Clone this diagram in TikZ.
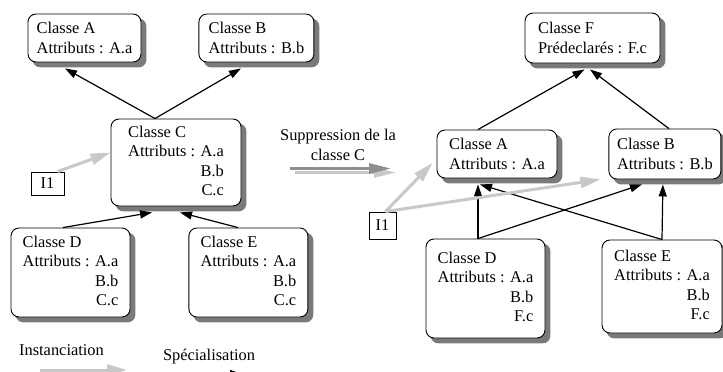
\documentclass[tikz,border=0pt]{standalone}
\usepackage{fontspec}
\setmainfont{Liberation Serif}
\usetikzlibrary{arrows.meta,positioning,backgrounds}
\definecolor{instance-grey}{HTML}{C8C8C8}
\definecolor{suppression-grey}{HTML}{8E8E8E}
\definecolor{shadow-grey}{HTML}{7A7A7A}

\begin{document}
\begin{tikzpicture}[x=1pt,y=-1pt,font=\fontsize{16.4}{19.5}\selectfont]
  \tikzstyle{classe}=[draw, line width=0.9pt, rounded corners=8pt, fill=white, align=left]
  \tikzstyle{objet}=[draw, line width=0.9pt, fill=white, inner sep=0pt]
  \tikzstyle{specialise}=[line width=1.2pt, -{Triangle[length=12pt,width=8pt]}]
  \tikzstyle{instancie}=[line width=3pt, instance-grey, -{Triangle[length=20pt,width=11pt]}]
  \tikzstyle{supprime}=[line width=3pt, -{Triangle[length=22pt,width=10pt]}]

  \useasboundingbox (0,0) rectangle (723,372);

  %% Before: hierarchy with C
  \node[classe, minimum width=113pt, minimum height=48pt] (la) at (84.5,38)
    {Classe A\\Attributs : A.a};
  \node[classe, minimum width=115pt, minimum height=48pt] (lb) [right=57pt of la]
    {Classe B\\Attributs : B.b};
  \node[classe, minimum width=130pt, minimum height=87pt] (lc) at (176,162.5)
    {\begin{tabular}{@{}l@{ }r@{}}\multicolumn{2}{@{}l@{}}{Classe C}\\
     Attributs : & A.a\\ & B.b\\ & C.c\end{tabular}};
  \node[classe, minimum width=119pt, minimum height=89pt] (ld) at (70.5,272.5)
    {\begin{tabular}{@{}l@{ }r@{}}\multicolumn{2}{@{}l@{}}{Classe D}\\
     Attributs : & A.a\\ & B.b\\ & C.c\end{tabular}};
  \node[classe, minimum width=119pt, minimum height=89pt] (le) [right=58pt of ld]
    {\begin{tabular}{@{}l@{ }r@{}}\multicolumn{2}{@{}l@{}}{Classe E}\\
     Attributs : & A.a\\ & B.b\\ & C.c\end{tabular}};
  \node[objet, minimum width=33pt, minimum height=23pt] (li) at (47.5,183.5) {I1};

  %% After: hierarchy without C
  \node[classe, minimum width=135pt, minimum height=50pt] (rf) at (592.5,38)
    {Classe F\\Prédeclarés : F.c};
  \node[classe, minimum width=120pt, minimum height=48pt] (ra) at (497,154)
    {Classe A\\Attributs : A.a};
  \node[classe, minimum width=112pt, minimum height=50pt] (rb) [right=51pt of ra]
    {Classe B\\Attributs : B.b};
  \node[classe, minimum width=119pt, minimum height=99pt] (rd) at (485.5,288.5)
    {\begin{tabular}{@{}l@{ }r@{}}\multicolumn{2}{@{}l@{}}{Classe D}\\
     Attributs : & A.a\\ & B.b\\ & F.c\end{tabular}};
  \node[classe, minimum width=120pt, minimum height=93pt] (re) at (662,286.5)
    {\begin{tabular}{@{}l@{ }r@{}}\multicolumn{2}{@{}l@{}}{Classe E}\\
     Attributs : & A.a\\ & B.b\\ & F.c\end{tabular}};
  \node[objet, minimum width=27pt, minimum height=27pt] (ri) at (382.5,225.5) {I1};

  %% Drop shadows of the classes
  \begin{scope}[on background layer]
    \foreach \c in {la,lb,lc,ld,le,rf,ra,rb,rd,re}
      \fill[shadow-grey, rounded corners=8pt]
        ([xshift=5pt,yshift=-5pt]\c.south west) rectangle ([xshift=5pt,yshift=-5pt]\c.north east);
  \end{scope}

  %% Transformation
  \node[align=center] (suppr) at (338,145) {Suppression de la\\classe C};
  \coordinate (suppr-s) at (290,168.5);
  \coordinate (suppr-e) at (391,168.5);
  \draw[supprime, instance-grey] ([xshift=5pt,yshift=-4pt]suppr-s) -- ([xshift=5pt,yshift=-4pt]suppr-e);
  \draw[supprime, suppression-grey] (suppr-s) -- (suppr-e);

  %% Legend
  \node (inst) at (61.5,350) {Instanciation};
  \node (spec) at (209,357) {Spécialisation};
  \coordinate (inst-s) at (40,370);
  \coordinate (inst-e) at (127,370);
  \coordinate (spec-s) at (200,374);
  \coordinate (spec-e) at (242,374);
  \draw[instancie] (inst-s) -- (inst-e);
  \draw[specialise] (spec-s) -- (spec-e);

  %% Specialisation, before
  \path[specialise]
    ([xshift=-21pt]lc.north) edge ([xshift=-19.5pt,yshift=-6pt]la.south)
    ([xshift=-21pt]lc.north) edge ([xshift=-15.5pt,yshift=-6pt]lb.south)
    ([xshift=-7.5pt]ld.north) edge ([xshift=-24pt,yshift=-6pt]lc.south)
    ([xshift=-10.5pt]le.north) edge ([xshift=4pt,yshift=-6pt]lc.south);

  %% Specialisation, after
  \path[specialise]
    ([xshift=-19pt]ra.north) edge ([xshift=-8pt,yshift=-6pt]rf.south)
    ([xshift=4pt]rb.north) edge ([xshift=-2.5pt,yshift=-6pt]rf.south)
    ([xshift=-7.5pt]rd.north) edge ([xshift=-19pt,yshift=-6pt]ra.south)
    ([xshift=-7.5pt]rd.north) edge ([xshift=-23pt,yshift=-5pt]rb.south)
    (re.north) edge ([xshift=-2pt,yshift=-5pt]rb.south)
    (re.north) edge ([xshift=-17pt,yshift=-6pt]ra.south);

  %% Instanciation
  \path[instancie]
    ([xshift=10pt]li.north) edge ([yshift=10pt]lc.west)
    ([xshift=3pt]ri.north) edge ([xshift=-4pt,yshift=-9pt]ra.west)
    ([xshift=3pt]ri.north) edge ([xshift=-8pt]rb.south west);
\end{tikzpicture}
\end{document}
